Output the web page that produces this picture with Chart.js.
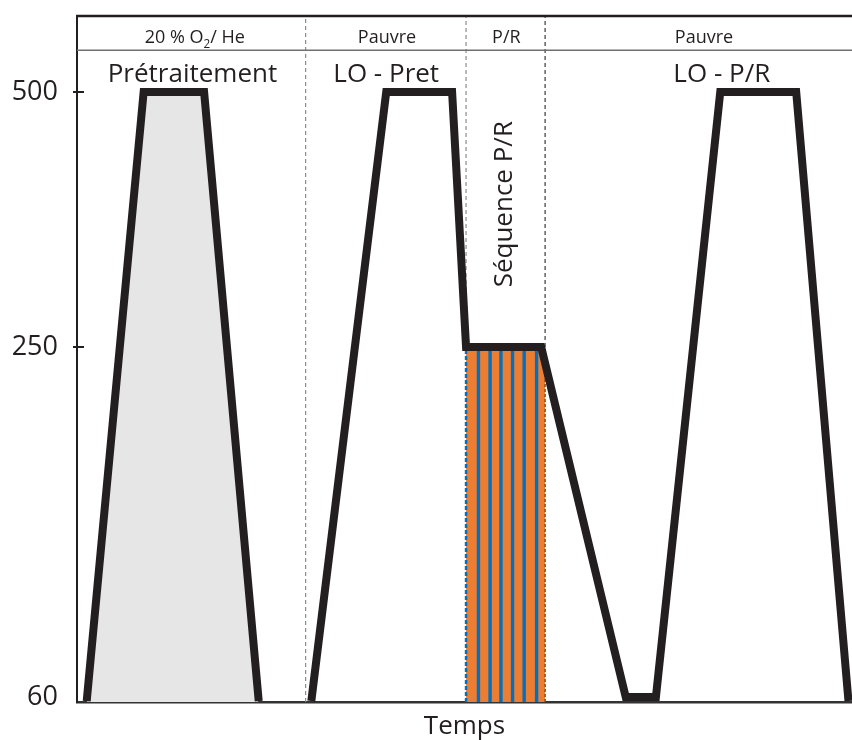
<!DOCTYPE html>
<html>
<head>
<meta charset="utf-8">
<script src="https://cdn.jsdelivr.net/npm/chart.js@4.4.1/dist/chart.umd.min.js"></script>
<style>
  html, body { margin: 0; padding: 0; background: #fff; }
  #wrap { width: 852px; height: 740px; }
</style>
</head>
<body>
<div id="wrap"><canvas id="chart"></canvas></div>
<script>
// temps en unites arbitraires (0-100), temperature en degC
const tempsPret = [1.3, 8.6, 16.4, 23.4];
const tempPret = [60, 500, 500, 60];
const tempsLO = [30.3, 39.9, 48.4, 50.2, 59.9, 70.8, 74.7, 83.0, 92.8, 99.5];
const tempLO = [60, 500, 500, 250, 250, 60, 60, 500, 500, 60];
const separations = [29.5, 50.2, 60.4];
const rayures = [51.8, 53.3, 54.7, 56.2, 57.7, 59.3];
const yTicks = [60, 250, 500];
const gaz = ['20 % O_2/ He', 'Pauvre', 'P/R', 'Pauvre'];
const gazX = [15.2, 40.0, 55.4, 80.9];
const etapes = ['Prétraitement', 'LO - Pret', 'LO - P/R'];
const etapesX = [14.9, 39.9, 83.2];
const sequence = 'Séquence P/R';

const NOIR = '#231f20';
const Y_MIN = -98, Y_MAX = 574.5;

// axe schematique : dessous de 250 la zone est dilatee
function toPos(t) {
    if (t === null) return null;
    return t >= 250 ? t : 250 - (250 - t) * 1.806;
}
const pts = (xs, ys) => xs.map((x, i) => ({ x: x, y: toPos(ys[i]) }));

const trace = [...pts(tempsPret, tempPret), { x: 27, y: null }, ...pts(tempsLO, tempLO)];
const debutPR = separations[1], finPR = separations[2];

const rayuresData = [];
rayures.forEach(x => {
    rayuresData.push({ x: x, y: Y_MIN }, { x: x, y: toPos(250) }, { x: x, y: null });
});

const grisData = [
    { x: separations[0], y: Y_MIN }, { x: separations[0], y: Y_MAX }, { x: separations[0], y: null },
    { x: debutPR, y: toPos(250) }, { x: debutPR, y: Y_MAX }
];

function drawRich(ctx, text, cx, y, size) {
    const parts = text.split(/_(\d)/);
    let w = 0;
    parts.forEach((p, i) => {
        ctx.font = (i % 2 ? size * 0.65 : size) + 'px "Open Sans"';
        w += ctx.measureText(p).width;
    });
    let x = cx - w / 2;
    ctx.textAlign = 'left';
    parts.forEach((p, i) => {
        ctx.font = (i % 2 ? size * 0.65 : size) + 'px "Open Sans"';
        ctx.fillText(p, x, i % 2 ? y + size * 0.25 : y);
        x += ctx.measureText(p).width;
    });
}

const decor = {
    id: 'decor',
    afterDatasetsDraw(chart) {
        const ctx = chart.ctx;
        const area = chart.chartArea;
        const xs = chart.scales.x, ys = chart.scales.y;
        ctx.save();
        // cadre haut et bandeau des gaz
        ctx.strokeStyle = NOIR;
        ctx.lineWidth = 2.5;
        ctx.beginPath();
        ctx.moveTo(area.left - 1, area.top);
        ctx.lineTo(area.right, area.top);
        ctx.stroke();
        ctx.strokeStyle = '#707070';
        ctx.lineWidth = 1.5;
        ctx.beginPath();
        ctx.moveTo(area.left, ys.getPixelForValue(541));
        ctx.lineTo(area.right, ys.getPixelForValue(541));
        ctx.stroke();
        // graduations de part et d'autre de l'axe
        ctx.strokeStyle = NOIR;
        ctx.lineWidth = 2;
        yTicks.slice(1).forEach(t => {
            const py = Math.round(ys.getPixelForValue(toPos(t)));
            ctx.beginPath();
            ctx.moveTo(area.left - 4, py);
            ctx.lineTo(area.left + 7, py);
            ctx.stroke();
        });
        ctx.fillStyle = NOIR;
        ctx.textBaseline = 'alphabetic';
        gaz.forEach((g, i) => drawRich(ctx, g, xs.getPixelForValue(gazX[i]), ys.getPixelForValue(548), 18));
        ctx.font = '26px "Open Sans"';
        ctx.textAlign = 'center';
        etapes.forEach((e, i) => ctx.fillText(e, xs.getPixelForValue(etapesX[i]), ys.getPixelForValue(509.8)));
        ctx.translate(xs.getPixelForValue(55.2), ys.getPixelForValue(390));
        ctx.rotate(-Math.PI / 2);
        ctx.textBaseline = 'middle';
        ctx.fillText(sequence, 0, 0);
        ctx.restore();
    }
};

new Chart(document.getElementById('chart'), {
    type: 'line',
    data: {
        datasets: [
            {
                data: trace,
                borderColor: NOIR,
                borderWidth: 8,
                borderJoinStyle: 'miter',
                borderCapStyle: 'square',
                spanGaps: false
            },
            {
                data: [{ x: finPR, y: toPos(250) }, { x: finPR, y: Y_MAX }],
                borderColor: '#3a3a3a',
                borderWidth: 1.2,
                borderDash: [4, 3]
            },
            {
                data: grisData,
                borderColor: '#8c8c8c',
                borderWidth: 1.2,
                borderDash: [4, 3],
                spanGaps: false
            },
            {
                data: [{ x: finPR, y: Y_MIN }, { x: finPR, y: toPos(250) }],
                borderColor: '#8a4a1c',
                borderWidth: 1.5,
                borderDash: [3, 2]
            },
            {
                data: [{ x: debutPR, y: Y_MIN }, { x: debutPR, y: toPos(250) }],
                borderColor: '#0070c0',
                borderWidth: 2.5,
                borderDash: [4, 2]
            },
            {
                data: rayuresData,
                borderColor: '#0070c0',
                borderWidth: 3.4,
                spanGaps: false
            },
            {
                data: [{ x: debutPR, y: toPos(250) }, { x: finPR, y: toPos(250) }],
                borderWidth: 0,
                backgroundColor: '#ed7d31',
                fill: 'start'
            },
            {
                data: pts(tempsPret, tempPret),
                borderWidth: 0,
                backgroundColor: '#e6e6e6',
                fill: 'start'
            }
        ]
    },
    options: {
        responsive: true,
        maintainAspectRatio: false,
        animation: false,
        events: [],
        layout: { padding: { top: 16, right: 0, left: 0, bottom: 0 } },
        elements: { point: { radius: 0 }, line: { tension: 0 } },
        plugins: { legend: { display: false }, tooltip: { enabled: false } },
        scales: {
            x: {
                type: 'linear',
                min: 0,
                max: 100,
                grid: { display: false },
                ticks: { display: false },
                border: { color: '#333', width: 2.5 },
                title: {
                    display: true,
                    text: 'Temps',
                    color: NOIR,
                    font: { family: 'Open Sans', size: 26, lineHeight: 1 },
                    padding: 0
                },
                afterFit: s => { s.height = 38; }
            },
            y: {
                type: 'linear',
                min: Y_MIN,
                max: Y_MAX,
                grid: { display: false, drawTicks: false },
                border: { color: NOIR, width: 2 },
                afterBuildTicks: s => { s.ticks = yTicks.map(t => ({ value: toPos(t) })); },
                ticks: {
                    padding: 19,
                    color: NOIR,
                    font: { family: 'Open Sans', size: 27 },
                    callback: (v, i) => yTicks[i]
                },
                afterFit: s => { s.width = 77; s.paddingTop = 0; s.paddingBottom = 0; }
            }
        }
    },
    plugins: [decor]
});
</script>
</body>
</html>
